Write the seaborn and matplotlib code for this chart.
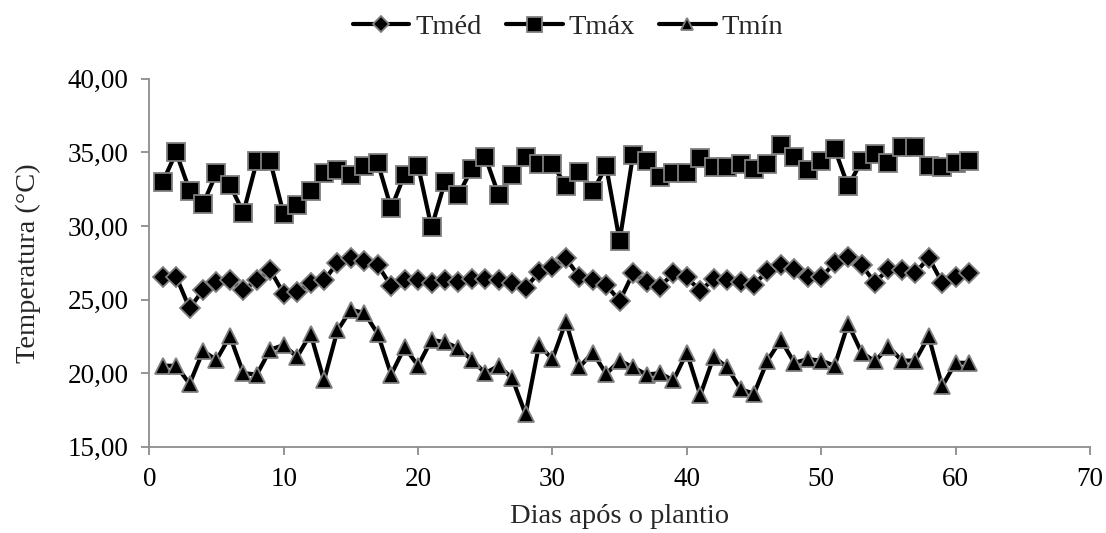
import numpy as np
import pandas as pd
import matplotlib
matplotlib.use("Agg")
import matplotlib.pyplot as plt
import seaborn as sns
from matplotlib.ticker import FuncFormatter, MultipleLocator

days = list(range(1, 62))

tmax = [33.0, 35.0, 32.4, 31.5, 33.6, 32.8, 30.9, 34.4, 34.4, 30.8,
        31.4, 32.35, 33.6, 33.8, 33.5, 34.1, 34.3, 31.2, 33.5, 34.1,
        29.9, 33.0, 32.1, 33.9, 34.7, 32.1, 33.5, 34.7, 34.2, 34.2,
        32.75, 33.7, 32.35, 34.05, 29.0, 34.85, 34.45, 33.3, 33.6, 33.6,
        34.6, 34.0, 34.0, 34.2, 33.9, 34.2, 35.5, 34.7, 33.8, 34.4,
        35.25, 32.7, 34.4, 34.9, 34.3, 35.4, 35.35, 34.05, 34.0, 34.3,
        34.45]

tmed = [26.5, 26.55, 24.4, 25.66, 26.2, 26.3, 25.66, 26.3, 27.0, 25.4,
        25.5, 26.15, 26.3, 27.5, 27.8, 27.6, 27.35, 25.9, 26.3, 26.3,
        26.1, 26.35, 26.2, 26.4, 26.4, 26.3, 26.1, 25.8, 26.85, 27.2,
        27.8, 26.55, 26.3, 26.0, 24.9, 26.8, 26.2, 25.85, 26.8, 26.5,
        25.6, 26.4, 26.3, 26.2, 26.0, 26.97, 27.35, 27.05, 26.5, 26.5,
        27.5, 27.9, 27.35, 26.15, 27.1, 27.0, 26.8, 27.85, 26.15, 26.55,
        26.8]

tmin = [20.5, 20.5, 19.27, 21.5, 20.9, 22.5, 20.0, 19.9, 21.6, 21.9,
        21.1, 22.67, 19.5, 22.9, 24.3, 24.1, 22.67, 19.9, 21.76, 20.5,
        22.26, 22.1, 21.7, 20.9, 20.0, 20.5, 19.65, 17.2, 21.9, 20.95,
        23.5, 20.4, 21.4, 19.95, 20.85, 20.4, 19.9, 20.0, 19.5, 21.4,
        18.5, 21.1, 20.4, 18.9, 18.6, 20.85, 22.26, 20.7, 20.95, 20.85,
        20.5, 23.35, 21.4, 20.8, 21.8, 20.85, 20.85, 22.5, 19.1, 20.7,
        20.7]

series_names = ["Tméd", "Tmáx", "Tmín"]
xlabel = "Dias após o plantio"
ylabel = "Temperatura (°C)"

df = pd.DataFrame({"Dia": days, "Tméd": tmed, "Tmáx": tmax, "Tmín": tmin})

sns.set_theme(style="white")
plt.rcParams["font.family"] = ["Liberation Serif", "DejaVu Serif"]

fig = plt.figure(figsize=(11.06, 5.33), dpi=100)
ax = fig.add_axes([0.135, 0.162, 0.8505, 0.69])

styles = {
    "Tméd": dict(marker="D", markersize=10.5),
    "Tmáx": dict(marker="s", markersize=13.5),
    "Tmín": dict(marker="^", markersize=11),
}
for name in series_names:
    sns.lineplot(data=df, x="Dia", y=name, ax=ax, color="black", linewidth=3,
                 markeredgecolor="#7f7f7f", markeredgewidth=1.3,
                 markerfacecolor="black", label=name, **styles[name])

ax.set_xlim(0, 70)
ax.set_ylim(15, 40)
ax.xaxis.set_major_locator(MultipleLocator(10))
ax.yaxis.set_major_locator(MultipleLocator(5))
ax.yaxis.set_major_formatter(FuncFormatter(lambda v, p: f"{v:.2f}".replace(".", ",")))

for s in ["top", "right"]:
    ax.spines[s].set_visible(False)
for s in ["left", "bottom"]:
    ax.spines[s].set_color("#8c8c8c")
    ax.spines[s].set_linewidth(1.3)
ax.tick_params(axis="both", which="major", direction="out", length=6, width=1.3,
               color="#8c8c8c", labelsize=19.5, labelcolor="black",
               bottom=True, left=True, pad=9)

ax.set_xlabel(xlabel, fontsize=20.5, labelpad=8)
ax.set_ylabel(ylabel, fontsize=20.5, labelpad=19)

leg = ax.legend(loc="center", bbox_to_anchor=(0.445, 1.14), ncol=3, frameon=False,
                fontsize=20.5, handlelength=2.0, columnspacing=0.85, handletextpad=0.2,
                markerscale=0.8)

fig.savefig("out.png", dpi=100)
